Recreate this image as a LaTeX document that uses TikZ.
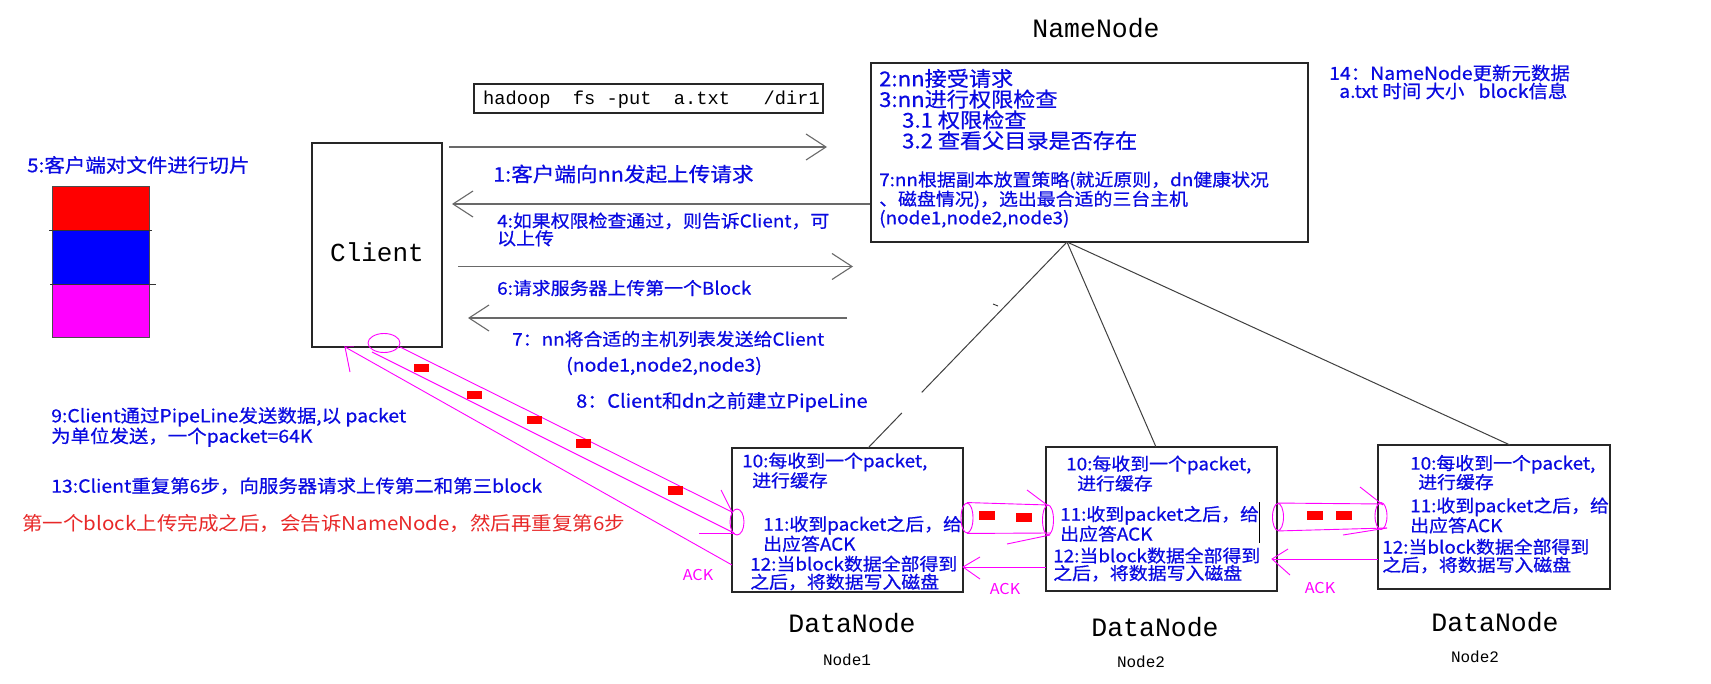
\documentclass[tikz,border=0pt]{standalone}
\usepackage{fontspec}
\setmainfont{Liberation Serif}
\newfontfamily\cn[FakeStretch=1.08,FakeBold=0.6]{Noto Sans CJK SC}
\newfontfamily\cnred[FakeStretch=1.08]{Noto Sans CJK SC}
\newfontfamily\monof{Liberation Mono}
\usetikzlibrary{arrows.meta,shapes.geometric,calc}
\definecolor{txtblue}{RGB}{10,10,225}
\definecolor{mag}{RGB}{255,0,255}
\definecolor{redtxt}{RGB}{232,40,40}
\definecolor{arrgray}{RGB}{105,105,105}
\newcommand\setsz[2]{\fontsize{#1}{#2}\selectfont}
\tikzset{
  box/.style={draw=black!85, line width=1.1pt, inner sep=0pt, fill=none},
  bt/.style={text=txtblue, inner sep=0pt, anchor=west, align=left},
  mt/.style={inner sep=0pt, text=black},
  req/.style={draw=arrgray, line width=1.3pt, -{Straight Barb[length=20pt,width=26pt,line width=1.1pt]}},
  pipe/.style={draw=mag, line width=0.9pt},
  pk/.style={fill=red, draw=none},
  tube/.style={ellipse, draw=mag, line width=0.9pt, inner sep=0pt},
  ack/.style={text=mag, inner sep=0pt, font=\cnred\setsz{15}{15}},
  nnline/.style={draw=black!75, line width=1pt}
}
\begin{document}
\begin{tikzpicture}[x=1pt,y=-1pt]
\useasboundingbox[fill=white] (0,0) rectangle (1711,684);

% ---------- boxes ----------
\node[box, minimum width=130pt, minimum height=204pt] (client) at (377,245) {};
\node[mt, font=\monof\setsz{26}{26}] (clientlbl) at (377,252) {Client};
\node[box, minimum width=437pt, minimum height=179pt] (nn) at (1089.5,152.5) {};
\node[mt, font=\monof\setsz{26.5}{26.5}] (nnlbl) at (1096,28) {NameNode};
\node[box, minimum width=349pt, minimum height=29pt] (cmd) at (648.5,98.5) {};
\node[mt, anchor=west, font=\monof\setsz{18.7}{18.7}] (cmdtxt) at (483,100) {hadoop\ \ fs -put\ \ a.txt\ \ \ /dir1};

\node[box, minimum width=231pt, minimum height=144pt] (dn1) at (847.5,520) {};
\node[box, minimum width=231pt, minimum height=144pt] (dn2) at (1161.5,519) {};
\node[box, minimum width=232pt, minimum height=144pt] (dn3) at (1494,517) {};
\node[mt, font=\monof\setsz{26.5}{26.5}] (dn1lbl) at (852,623) {DataNode};
\node[mt, font=\monof\setsz{26.5}{26.5}] (dn2lbl) at (1155,627) {DataNode};
\node[mt, font=\monof\setsz{26.5}{26.5}] (dn3lbl) at (1495,622) {DataNode};
\node[mt, font=\monof\setsz{16}{16}] (n1lbl) at (847,660) {Node1};
\node[mt, font=\monof\setsz{16}{16}] (n2lbl) at (1141,662) {Node2};
\node[mt, font=\monof\setsz{16}{16}] (n3lbl) at (1475,657) {Node2};

% ---------- file blocks ----------
\node[bt, font=\cn\setsz{19}{19}] (t5) at (27,165) {5:客户端对文件进行切片};
\fill[red] (52,186) rectangle (149,231);
\fill[blue] (52,231) rectangle (149,285);
\fill[mag] (52,285) rectangle (149,337);
\draw[black!70, line width=0.8pt] (52,186) rectangle (149,337);
\draw[black!80, line width=1pt] (49,231) -- (152,231);
\draw[black!80, line width=1pt] (50,285) -- (156,285);

% ---------- NameNode texts ----------
\node[bt, font=\cn\setsz{20.5}{20.7}] (nnA) at (879,109.5) {2:nn接受请求\\3:nn进行权限检查\\\hspace*{23pt}3.1 权限检查\\\hspace*{23pt}3.2 查看父目录是否存在};
\node[bt, font=\cn\setsz{17.5}{17.5}] (nnB) at (879,199.5) {7:nn根据副本放置策略(就近原则，dn健康状况\\、磁盘情况)，选出最合适的三台主机\\(node1,node2,node3)};
\node[bt, font=\cn\setsz{18}{18}] (t14) at (1329,82) {14：NameNode更新元数据\\\hspace*{10pt}a.txt 时间 大小\hspace{14pt}block信息};

% ---------- request arrows ----------
\coordinate (a1s) at (449,147);
\coordinate (a1e) at (827,147);
\coordinate (a2e) at (452,204);
\coordinate (a3s) at (458,266.5);
\coordinate (a3e) at (853,266.5);
\coordinate (a4s) at (847,318);
\coordinate (a4e) at (468,318);
\draw[req] (a1s) -- (a1e);
\draw[req] (nn.west |- a2e) -- (a2e);
\draw[req] (a3s) -- (a3e);
\draw[req] (a4s) -- (a4e);

\node[bt, font=\cn\setsz{20}{20}] (t1) at (493,174) {1:客户端向nn发起上传请求};
\node[bt, font=\cn\setsz{17.5}{17.5}] (t4) at (497,229.5) {4:如果权限检查通过，则告诉Client，可\\以上传};
\node[bt, font=\cn\setsz{17.5}{17.5}] (t6) at (497,288) {6:请求服务器上传第一个Block};
\node[bt, font=\cn\setsz{17.5}{17.5}] (t7) at (512,339) {7：nn将合适的主机列表发送给Client};
\node[bt, font=\cn\setsz{18}{18}] (t7b) at (566,366) {(node1,node2,node3)};
\node[bt, font=\cn\setsz{18.5}{18.5}] (t8) at (576,402) {8：Client和dn之前建立PipeLine};

% ---------- left texts ----------
\node[bt, font=\cn\setsz{18}{18}] (t9) at (51,427) {9:Client通过PipeLine发送数据,以 packet\\为单位发送，一个packet=64K};
\node[bt, font=\cn\setsz{18}{18}] (t13) at (51,486) {13:Client重复第6步，向服务器请求上传第二和第三block};
\node[bt, text=redtxt, font=\cnred\setsz{19}{19}] (tred) at (22,523) {第一个block上传完成之后，会告诉NameNode，然后再重复第6步};

% ---------- NameNode to DataNodes ----------
\coordinate (apex) at (1067,242);
\coordinate (d1top) at (868,448);
\coordinate (d2top) at (1156,447);
\coordinate (d3top) at (1510,445);
\draw[nnline] (apex) -- ($(apex)!0.73!(d1top)$);
\draw[nnline] ($(apex)!0.83!(d1top)$) -- (d1top);
\draw[nnline] (apex) -- (d2top);
\draw[nnline] (apex) -- (d3top);
\draw[black!80, line width=0.9pt] (993,304) -- (998,306);

% ---------- DataNode texts ----------
\node[bt, font=\cn\setsz{17.5}{17}] (d1a) at (742,470.5) {10:每收到一个packet,\\\hspace*{10pt}进行缓存};
\node[bt, font=\cn\setsz{17.5}{18}] (d1b) at (763,534) {11:收到packet之后，给\\出应答ACK};
\node[bt, font=\cn\setsz{17.5}{18}] (d1c) at (750,573) {12:当block数据全部得到\\之后，将数据写入磁盘};

\node[bt, font=\cn\setsz{17.5}{17}] (d2a) at (1066,473.5) {10:每收到一个packet,\\\hspace*{11pt}进行缓存};
\node[bt, font=\cn\setsz{17.5}{18}] (d2b) at (1060,524) {11:收到packet之后，给\\出应答ACK};
\node[bt, font=\cn\setsz{17.5}{17.5}] (d2c) at (1053,564.5) {12:当block数据全部得到\\之后，将数据写入磁盘};
\draw[black, line width=1pt] (1259,502) -- (1259,543);

\node[bt, font=\cn\setsz{17.5}{19}] (d3a) at (1410,472.5) {10:每收到一个packet,\\\hspace*{8pt}进行缓存};
\node[bt, font=\cn\setsz{17.5}{17.5}] (d3b) at (1410,515.5) {11:收到packet之后，给\\出应答ACK};
\node[bt, font=\cn\setsz{17.5}{18}] (d3c) at (1382,556) {12:当block数据全部得到\\之后，将数据写入磁盘};

% ---------- pipeline client -> dn1 ----------
\node[tube, minimum width=32pt, minimum height=19pt] (e0) at (384,343) {};
\node[tube, minimum width=14pt, minimum height=26pt] (e1) at (737,522) {};
\coordinate (p0a) at (400,347);
\coordinate (p0b) at (372,352);
\coordinate (p1a) at (732,512);
\coordinate (p1b) at (734,533);
\draw[pipe] (p0a) -- (p1a);
\draw[pipe] (p0b) -- (p1b);
\draw[pipe] (721,490) -- (p1a);
\draw[pipe] (699,533) -- (735,533);
\coordinate (ackc) at (345,347);
\coordinate (ackd) at (732,565);
\draw[pipe] (ackd) -- (ackc) -- (350,372);
\draw[draw={rgb,255:red,150;green,0;blue,150}, line width=1pt] (ackc) -- (354,347);
\fill[pk] (413.5,364) rectangle (428.5,372.5);
\fill[pk] (466.5,391) rectangle (481.5,399.5);
\fill[pk] (526.5,416) rectangle (541.5,424.5);
\fill[pk] (575.5,439) rectangle (590.5,447.5);
\fill[pk] (667.5,486) rectangle (682.5,494.5);
\node[ack] (ack1) at (698,575) {ACK};

% ---------- pipeline dn1 -> dn2 ----------
\node[tube, minimum width=12pt, minimum height=30pt] (e2) at (967,518) {};
\node[tube, minimum width=11pt, minimum height=30pt] (e3) at (1048,520) {};
\draw[pipe] (e2.north) -- (1048,505);
\draw[pipe] (e2.south) -- (1050,533);
\draw[pipe] (1027,490) -- (1047,505);
\draw[pipe] (1007,544) -- (1050,535);
\fill[pk] (979,511) rectangle (995,519.5);
\fill[pk] (1016,513) rectangle (1032,521.5);
\coordinate (ack2s) at (1046,567);
\coordinate (ack2e) at (963,567);
\draw[pipe] (ack2s) -- (ack2e);
\draw[pipe] (980,557) -- (ack2e) -- (980,579);
\node[ack] (ack2) at (1005,589) {ACK};

% ---------- pipeline dn2 -> dn3 ----------
\node[tube, minimum width=11pt, minimum height=27pt] (e4) at (1278,517) {};
\node[tube, minimum width=12pt, minimum height=27pt] (e5) at (1381,516) {};
\draw[pipe] (e4.north) -- (1383,504);
\draw[pipe] (e4.south) -- (1387,528);
\draw[pipe] (1360,487) -- (1383,505);
\draw[pipe] (1343,535) -- (1387,528);
\fill[pk] (1307,511) rectangle (1323,519.5);
\fill[pk] (1336,511) rectangle (1352,519.5);
\coordinate (ack3s) at (1378,559);
\coordinate (ack3e) at (1272,559);
\draw[pipe] (ack3s) -- (ack3e);
\draw[pipe] (1288,549) -- (ack3e) -- (1290,575);
\node[ack] (ack3) at (1320,588) {ACK};
\end{tikzpicture}
\end{document}
